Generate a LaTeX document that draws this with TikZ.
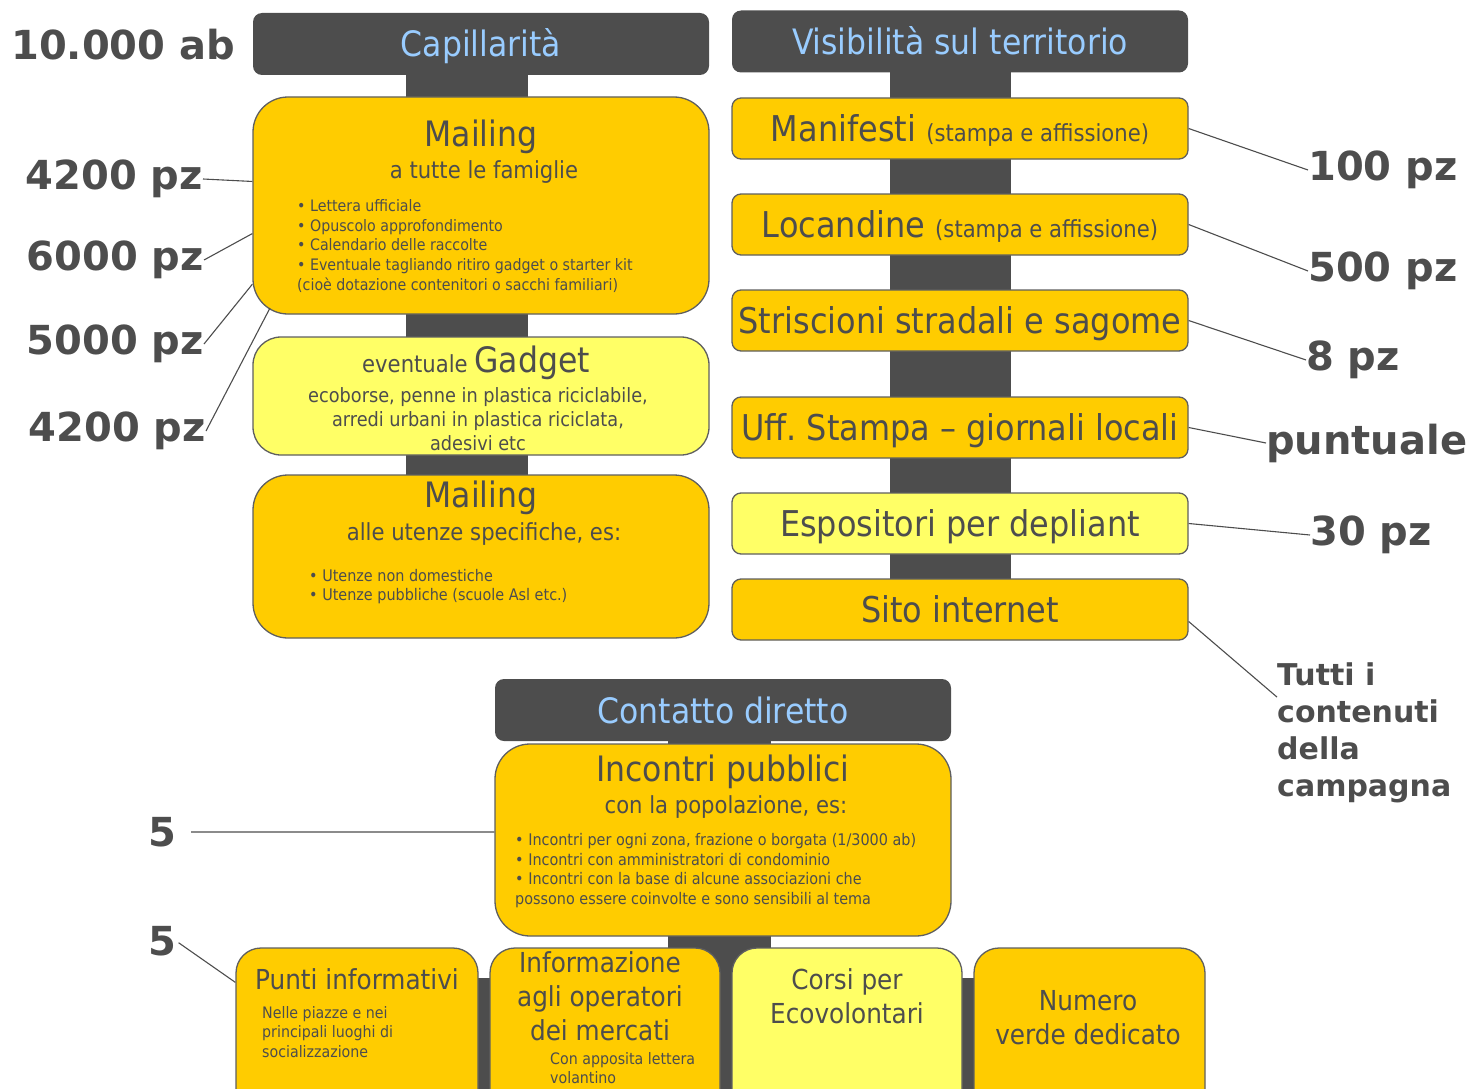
\documentclass[tikz,border=0pt]{standalone}
\usepackage{fontspec}
\setmainfont{DejaVu Sans Condensed}
\newfontfamily\numfont{DejaVu Sans}
\usetikzlibrary{positioning,calc}

\definecolor{hdr}{HTML}{4D4D4D}
\definecolor{hdrtxt}{HTML}{99CCFF}
\definecolor{gold}{HTML}{FFCC00}
\definecolor{pale}{HTML}{FFFF66}
\definecolor{ink}{HTML}{4D4D4D}
\definecolor{edge}{HTML}{5F5F5F}

\newcommand{\sz}[2]{\fontsize{#1}{#2}\selectfont}

\tikzset{
  head/.style={fill=hdr, rounded corners=9pt, minimum width=456pt, minimum height=62pt,
    text=hdrtxt, font=\sz{35}{40}, inner sep=0pt, text height=26pt, text depth=0pt},
  box/.style={draw=edge, line width=1.3pt, fill=gold, rounded corners=35pt, minimum width=456pt},
  cell/.style={box, rounded corners=25pt, minimum height=172pt},
  bar/.style={draw=edge, line width=1.3pt, fill=gold, rounded corners=9pt, minimum width=456pt,
    minimum height=61pt, text=ink, inner sep=0pt, font=\sz{35.5}{40}, text height=26pt, text depth=0pt},
  txt/.style={text=ink, inner sep=0pt},
  qty/.style={text=ink, font=\numfont\bfseries\sz{40}{44}, inner sep=0pt},
  lead/.style={draw=ink, line width=1.1pt},
}

\begin{document}
\begin{tikzpicture}[x=1pt, y=-1pt]
	\useasboundingbox (0,0) rectangle (1469,1089);
	\clip (0,0) rectangle (1469,1089);

	% spines behind the columns
	\fill[hdr] (406,70) rectangle (528,480);
	\fill[hdr] (890,70) rectangle (1011,585);
	\fill[hdr] (668,740) rectangle (771,1089);
	\fill[hdr] (470,978) rectangle (980,1089);

	% headers
	\node[head] (cap) at (481,44) {Capillarità};
	\node[head] (vis) at (960,41.5) {Visibilità sul territorio};
	\node[head] (cont) at (723,710) {Contatto diretto};

	% left column
	\node[box, minimum height=217pt] (mail1) at (481,205.5) {};
	\node[txt, font=\sz{35}{40}] (mail1t) at (481,137) {Mailing};
	\node[txt, font=\sz{23.5}{26}] (mail1s) at (484,172) {a tutte le famiglie};
	\node[txt, font=\sz{15.8}{19.8}, align=left, anchor=north west] (mail1b) at (297,199) {%
		• Lettera ufficiale\\
		• Opuscolo approfondimento\\
		• Calendario delle raccolte\\
		• Eventuale tagliando ritiro gadget o starter kit\\
		(cioè dotazione contenitori o sacchi familiari)};

	\node[box, fill=pale, minimum height=118pt, rounded corners=28pt] (gad) at (481,396) {};
	\node[txt, font=\sz{23.5}{26}] (gadt) at (476,363) {eventuale {\sz{35}{40}Gadget}};
	\node[txt, font=\sz{19.7}{24.2}, align=center] (gads) at (478,419) {%
		ecoborse, penne in plastica riciclabile,\\
		arredi urbani in plastica riciclata,\\
		adesivi etc};

	\node[box, minimum height=163pt] (mail2) at (481,556.5) {};
	\node[txt, font=\sz{35}{40}] (mail2t) at (481,498) {Mailing};
	\node[txt, font=\sz{23.5}{26}] (mail2s) at (484,534) {alle utenze specifiche, es:};
	\node[txt, font=\sz{16}{19.6}, align=left, anchor=north west] (mail2b) at (309,569) {%
		• Utenze non domestiche\\
		• Utenze pubbliche (scuole Asl etc.)};

	% right column
	\node[bar] (manif) at (960,128.5) {Manifesti {\sz{23.5}{26}(stampa e affissione)}};
	\node[bar] (locan) at (960,224.5) {Locandine {\sz{23.5}{26}(stampa e affissione)}};
	\node[bar] (stris) at (960,320.5) {Striscioni stradali e sagome};
	\node[bar] (uff) at (960,427.5) {Uff.\ Stampa – giornali locali};
	\node[bar, fill=pale] (espo) at (960,523.5) {Espositori per depliant};
	\node[bar] (sito) at (960,609.5) {Sito internet};

	% bottom block
	\node[box, minimum height=192pt] (incon) at (723,840) {};
	\node[txt, font=\sz{35}{40}] (incont) at (723,772) {Incontri pubblici};
	\node[txt, font=\sz{23.5}{26}] (incons) at (726,807) {con la popolazione, es:};
	\node[txt, font=\sz{16}{19.7}, align=left, anchor=north west] (inconb) at (515,833) {%
		• Incontri per ogni zona, frazione o borgata (1/3000 ab)\\
		• Incontri con amministratori di condominio\\
		• Incontri con la base di alcune associazioni che\\
		possono essere coinvolte e sono sensibili al tema};

	\node[cell, minimum width=242pt] (punti) at (357,1034) {};
	\node[txt, font=\sz{27.5}{34}] (puntit) at (357,979) {Punti informativi};
	\node[txt, font=\sz{15.8}{19.5}, align=left, anchor=north west] (puntis) at (262,1006) {%
		Nelle piazze e nei\\
		principali luoghi di\\
		socializzazione};

	\node[cell, minimum width=230pt] (info) at (605,1034) {};
	\node[txt, font=\sz{27.5}{34}, align=center] (infot) at (600,996) {%
		Informazione\\
		agli operatori\\
		dei mercati};
	\node[txt, font=\sz{15.8}{19.5}, align=left, anchor=north west] (infos) at (550,1052) {%
		Con apposita lettera\\
		volantino};

	\node[cell, fill=pale, minimum width=230pt] (corsi) at (847,1034) {};
	\node[txt, font=\sz{27.5}{34}, align=center] (corsit) at (847,996) {%
		Corsi per\\
		Ecovolontari};

	\node[cell, minimum width=231pt] (numv) at (1089.5,1034) {};
	\node[txt, font=\sz{27.5}{34}, align=center] (numvt) at (1088,1018) {%
		Numero\\
		verde dedicato};

	% quantities
	\node[qty, anchor=west] (abit) at (11,45) {10.000 ab};
	\node[qty, anchor=east] (q1) at (203,179) {4200 pz};
	\node[qty, anchor=east] (q2) at (204,260) {6000 pz};
	\node[qty, anchor=east] (q3) at (204,344) {5000 pz};
	\node[qty, anchor=east] (q4) at (206,431) {4200 pz};

	\node[qty, anchor=west] (r1) at (1308,170) {100 pz};
	\node[qty, anchor=west] (r2) at (1308,271) {500 pz};
	\node[qty, anchor=west] (r3) at (1306,360) {8 pz};
	\node[qty, anchor=west] (r4) at (1266,443) {puntuale};
	\node[qty, anchor=west] (r5) at (1310,535) {30 pz};
	\node[qty, font=\numfont\bfseries\sz{30}{37}, align=left, anchor=north west] (tutti) at (1277,662) {%
		Tutti i\\
		contenuti\\
		della\\
		campagna};

	\node[qty] (five1) at (162,832) {5};
	\node[qty] (five2) at (162,941) {5};

	\coordinate (c4) at (270,308);

	% leader lines
	\draw[lead] (q1.east) -- (mail1.174);
	\draw[lead] (q2.east) -- (mail1.187);
	\draw[lead] (q3.east) -- (mail1.199);
	\draw[lead] (q4.east) -- (c4);

	\draw[lead] (manif.east) -- (r1.west);
	\draw[lead] (locan.east) -- (r2.west);
	\draw[lead] (stris.east) -- (r3.west);
	\draw[lead] (uff.east) -- (r4.west);
	\draw[lead] (espo.east) -- (r5.west);
	\draw[lead] (sito.-3) -- (tutti.158);

	\draw[lead, shorten <=15pt] (five1.east) -- (incon.178);
	\draw[lead, shorten <=3pt] (five2.east) -- (punti.157);
\end{tikzpicture}
\end{document}
